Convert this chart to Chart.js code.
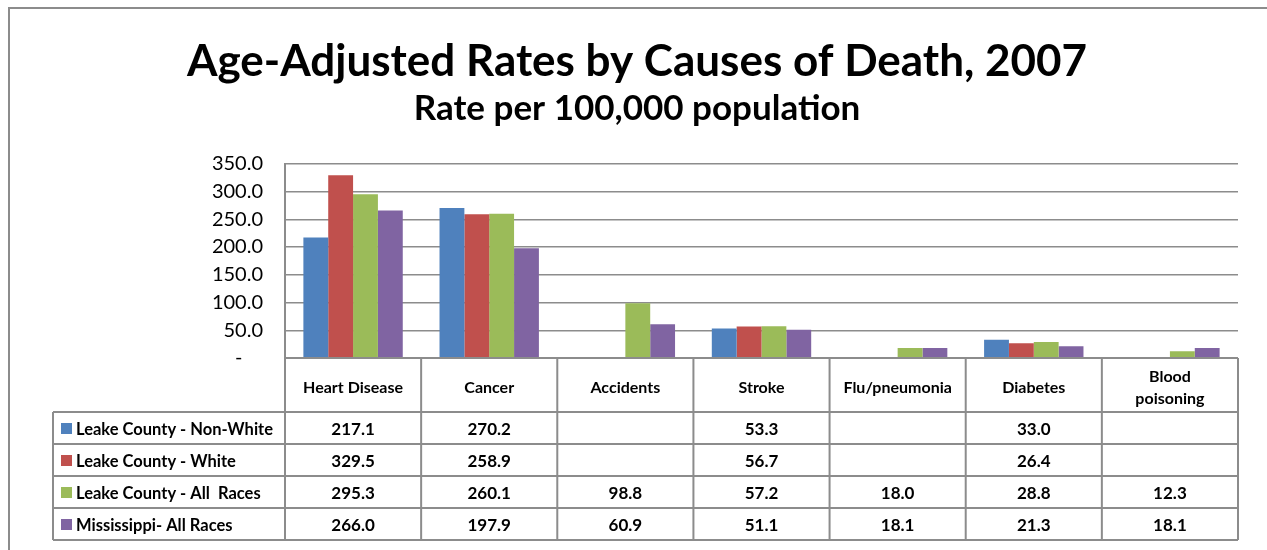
<!DOCTYPE html>
<html>
<head>
<meta charset="utf-8">
<script src="https://cdn.jsdelivr.net/npm/chart.js@4.4.1/dist/chart.umd.min.js"></script>
<style>
  html, body { margin: 0; padding: 0; background: #fff; }
  #wrap { width: 1267px; height: 550px; }
</style>
</head>
<body>
<div id="wrap"><canvas id="deathChart" width="1267" height="550"></canvas></div>
<script>
const causes = ['Heart Disease', 'Cancer', 'Accidents', 'Stroke', 'Flu/pneumonia', 'Diabetes', 'Blood poisoning'];
const seriesNames = ['Leake County - Non-White', 'Leake County - White', 'Leake County - All  Races', 'Mississippi- All Races'];
const nonWhite = [217.1, 270.2, null, 53.3, null, 33.0, null];
const white = [329.5, 258.9, null, 56.7, null, 26.4, null];
const leakeAll = [295.3, 260.1, 98.8, 57.2, 18.0, 28.8, 12.3];
const mississippi = [266.0, 197.9, 60.9, 51.1, 18.1, 21.3, 18.1];
const yTicks = [0, 50, 100, 150, 200, 250, 300, 350];
const colors = ['#4F81BD', '#C0504D', '#9BBB59', '#8064A2'];

const FONT = 'Lato, "Liberation Sans", sans-serif';
const gridColor = '#8c8c8c';

// frame around the whole chart object
const framePlugin = {
  id: 'frame',
  beforeDraw(chart) {
    const ctx = chart.ctx;
    ctx.save();
    ctx.fillStyle = '#fff';
    ctx.fillRect(0, 0, chart.width, chart.height);
    ctx.strokeStyle = gridColor;
    ctx.lineWidth = 2;
    ctx.beginPath();
    ctx.moveTo(9, chart.height + 2);
    ctx.lineTo(9, 8);
    ctx.lineTo(chart.width + 2, 8);
    ctx.stroke();
    ctx.restore();
  }
};

// data table under the plot: category headers, legend keys and values
const dataTablePlugin = {
  id: 'dataTable',
  afterDraw(chart) {
    const ctx = chart.ctx;
    const area = chart.chartArea;
    const n = causes.length;
    const colW = (area.right - area.left) / n;
    const headTop = area.bottom;
    const headBottom = headTop + 54;
    const rowH = 32;
    const tableBottom = headBottom + rowH * chart.data.datasets.length;
    const keyLeft = 53;

    ctx.save();
    ctx.strokeStyle = gridColor;
    ctx.lineWidth = 2;

    // horizontal lines
    ctx.beginPath();
    ctx.moveTo(area.left, headTop);
    ctx.lineTo(area.right, headTop);
    for (let r = 0; r <= chart.data.datasets.length; r++) {
      const y = headBottom + r * rowH;
      ctx.moveTo(keyLeft, y);
      ctx.lineTo(area.right, y);
    }
    // vertical lines
    for (let i = 0; i <= n; i++) {
      const x = area.left + i * colW;
      ctx.moveTo(x, headTop);
      ctx.lineTo(x, tableBottom);
    }
    ctx.moveTo(keyLeft, headBottom);
    ctx.lineTo(keyLeft, tableBottom);
    ctx.stroke();

    ctx.fillStyle = '#000';
    ctx.textAlign = 'center';
    ctx.textBaseline = 'middle';
    ctx.font = 'bold 16px ' + FONT;
    const xs = chart.scales.x;
    causes.forEach((c, i) => {
      const cx = xs.getPixelForValue(i);
      const cy = headTop + 30;
      const words = c === 'Blood poisoning' ? ['Blood', 'poisoning'] : [c];
      words.forEach((w, k) => {
        ctx.fillText(w, cx, cy + (k - (words.length - 1) / 2) * 22);
      });
    });

    chart.data.datasets.forEach((ds, r) => {
      const cy = headBottom + r * rowH + rowH / 2 + 2;
      ctx.fillStyle = ds.backgroundColor;
      ctx.fillRect(keyLeft + 8, cy - 7, 11, 11);
      ctx.fillStyle = '#000';
      ctx.textAlign = 'left';
      ctx.font = 'bold 16.5px ' + FONT;
      ctx.fillText(ds.label, keyLeft + 23, cy);
      ctx.textAlign = 'center';
      ctx.font = 'bold 17px ' + FONT;
      ds.data.forEach((v, i) => {
        if (v === null) return;
        ctx.fillText(v.toFixed(1), xs.getPixelForValue(i), cy);
      });
    });
    ctx.restore();
  }
};

const seriesData = [nonWhite, white, leakeAll, mississippi];

new Chart(document.getElementById('deathChart'), {
  type: 'bar',
  data: {
    labels: causes,
    datasets: seriesNames.map((name, i) => ({
      label: name,
      data: seriesData[i],
      backgroundColor: colors[i],
      borderWidth: 0
    }))
  },
  options: {
    responsive: false,
    animation: false,
    layout: { padding: { left: 36, right: 29, top: 0, bottom: 192 } },
    datasets: {
      bar: { categoryPercentage: 0.73, barPercentage: 1.0 }
    },
    scales: {
      x: { display: false },
      y: {
        min: 0,
        max: 350,
        afterFit(scale) { scale.width = 249; },
        afterBuildTicks(scale) { scale.ticks = yTicks.map(v => ({ value: v })); },
        border: { display: true, color: gridColor, width: 2 },
        grid: { color: gridColor, lineWidth: 1.5, drawTicks: false },
        ticks: {
          padding: 22,
          color: '#000',
          font: { family: FONT, size: 20 },
          callback: v => v === 0 ? '-    ' : v.toFixed(1)
        }
      }
    },
    plugins: {
      legend: { display: false },
      tooltip: { enabled: false },
      title: {
        display: true,
        text: 'Age-Adjusted Rates by Causes of Death, 2007',
        color: '#000',
        font: { family: FONT, size: 44, weight: 'bold', lineHeight: 1.2 },
        padding: { top: 35, bottom: 0 }
      },
      subtitle: {
        display: true,
        text: 'Rate per 100,000 population',
        color: '#000',
        font: { family: FONT, size: 35, weight: 'bold', lineHeight: 1.2 },
        padding: { top: 0, bottom: 34 }
      }
    }
  },
  plugins: [framePlugin, dataTablePlugin]
});
</script>
</body>
</html>
